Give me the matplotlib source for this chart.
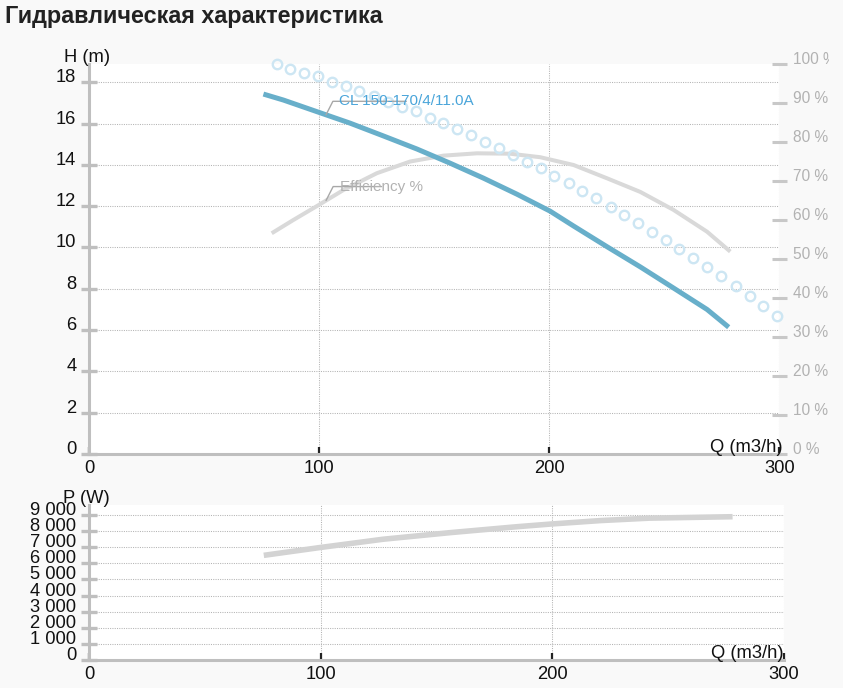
import matplotlib
matplotlib.use("Agg")
import matplotlib.pyplot as plt
from matplotlib.transforms import Bbox, TransformedBbox
import numpy as np

plt.rcParams['font.family'] = ['Liberation Sans', 'DejaVu Sans']

# ---------------- data ----------------
title = "Гидравлическая характеристика"
curve_label = "CL 150-170/4/11.0A"
eff_label = "Efficiency %"
h_axis_label = "H (m)"
p_axis_label = "P (W)"
q_axis_label = "Q (m3/h)"

q_head = [75.8, 84.5, 99.0, 113.5, 128.0, 142.5, 157.0, 171.4, 186.0, 200.4,
          210.6, 225.1, 239.6, 254.0, 268.6, 278.0]
h_head = [17.43, 17.14, 16.58, 16.02, 15.40, 14.77, 14.08, 13.36, 12.58, 11.76,
          11.04, 10.04, 9.06, 8.04, 7.00, 6.14]

q_eff = [79.4, 88.8, 99.7, 110.6, 125.1, 139.6, 154.0, 168.6, 183.0, 196.1,
         210.6, 225.1, 239.6, 254.0, 268.6, 278.7]
eff = [56.6, 60.0, 63.8, 67.7, 72.0, 75.0, 76.5, 77.1, 77.0, 76.1,
       74.1, 70.7, 67.2, 62.6, 57.0, 51.9]

q_dots = [81.6, 87.5, 93.5, 99.6, 105.5, 111.6, 117.5, 123.7, 130.1, 136.0,
          142.0, 148.0, 153.9, 159.9, 166.0, 171.9, 178.3, 184.3, 190.3, 196.4,
          202.3, 208.4, 214.3, 220.4, 227.0, 232.6, 238.8, 244.7, 250.7, 256.5,
          262.7, 268.6, 274.7, 281.0, 287.1, 292.9, 299.0]
h_dots = [18.89, 18.64, 18.46, 18.30, 18.03, 17.82, 17.58, 17.34, 17.06, 16.82,
          16.61, 16.29, 16.01, 15.75, 15.45, 15.09, 14.80, 14.46, 14.13, 13.84,
          13.46, 13.11, 12.74, 12.38, 11.98, 11.59, 11.17, 10.74, 10.36, 9.93,
          9.48, 9.04, 8.61, 8.14, 7.65, 7.17, 6.68]

q_pow = [75.5, 100, 127, 156, 185, 200, 221, 242, 278]
p_pow = [6500, 6990, 7500, 7910, 8280, 8450, 8660, 8810, 8900]

x_ticks = [0, 100, 200, 300]
h_ticks = [0, 2, 4, 6, 8, 10, 12, 14, 16, 18]
pct_ticks = [0, 10, 20, 30, 40, 50, 60, 70, 80, 90, 100]
p_ticks = [0, 1000, 2000, 3000, 4000, 5000, 6000, 7000, 8000, 9000]

# ---------------- style ----------------
W, H = 843, 688
BG = '#f9f9f9'
SPINE = '#bfbfbf'
GRID = '#b4b4b4'
BLUE = '#68afca'
BLUE_TXT = '#4aa5da'
DOT = '#cde6f3'
EFF = '#d9d9d9'
POW = '#d3d3d3'
TXT = '#111111'
GRAY_TXT = '#b2b2b2'
FS = 13.2

fig = plt.figure(figsize=(W / 100, H / 100), dpi=100, facecolor=BG)


def frac(l, t, r, b):
    return [l / W, 1 - b / H, (r - l) / W, (b - t) / H]


def style_axes(a, yticks, ylabels):
    a.set_facecolor('white')
    for s in ('top', 'right'):
        a.spines[s].set_visible(False)
    for s in ('left', 'bottom'):
        a.spines[s].set_color(SPINE)
        a.spines[s].set_linewidth(2.2)
    a.set_xticks(x_ticks)
    a.set_xticklabels([str(v) for v in x_ticks])
    a.set_yticks(yticks)
    a.set_yticklabels(ylabels)
    a.tick_params(axis='x', direction='in', length=5, width=1.6, color='#222222',
                  labelsize=FS, labelcolor=TXT, pad=4.5)
    a.tick_params(axis='y', direction='inout', length=12.2, width=2.4, color=SPINE,
                  labelsize=FS, labelcolor=TXT, pad=3)
    a.grid(True, color=GRID, linestyle=(0, (1, 1.2)), linewidth=0.75)
    a.set_axisbelow(True)
    plt.setp(a.get_yticklabels(), va='baseline')


# ---------------- top chart ----------------
ax = fig.add_axes(frac(89, 64, 779.3, 454))
ax.set_xlim(0, 300)
ax.set_ylim(0, 18.886)
style_axes(ax, h_ticks, [str(v) for v in h_ticks])

ax2 = ax.twinx()
ax2.set_ylim(0, 100)
for s in ax2.spines.values():
    s.set_visible(False)
ax2.set_yticks(pct_ticks)
ax2.set_yticklabels([f"{v} %" for v in pct_ticks])
ax2.tick_params(axis='y', direction='inout', length=10.8, width=2.2, color='#c8c8c8',
                labelsize=11.2, labelcolor=GRAY_TXT, pad=4.2)
clip = TransformedBbox(Bbox([[0, 0], [829 / W, 1]]), fig.transFigure)
for lab in ax2.get_yticklabels():
    lab.set_va('baseline')
    lab.set_clip_box(clip)
    lab.set_clip_on(True)

ax2.plot(q_eff, eff, color=EFF, lw=2.9, solid_capstyle='butt', zorder=2)
ax2.plot(q_dots, h_dots, transform=ax.transData, linestyle='none', marker='o',
         ms=6.8, mfc='none', mec=DOT, mew=1.7, clip_on=False, zorder=3)
ax2.plot(q_head, h_head, transform=ax.transData, color=BLUE, lw=3.6,
         solid_capstyle='butt', solid_joinstyle='round', zorder=4)

q_anchor = 103
ax2.annotate(curve_label, xy=(q_anchor, np.interp(q_anchor, q_head, h_head)),
             xycoords=ax.transData, xytext=(13, 13.5), textcoords='offset pixels',
             ha='left', va='center', fontsize=11, color=BLUE_TXT,
             arrowprops=dict(arrowstyle='-', color='#a8a8a8', lw=1,
                             shrinkA=0, shrinkB=0, patchA=None,
                             connectionstyle='angle,angleA=0,angleB=63,rad=0'),
             zorder=5)
ax2.annotate(eff_label, xy=(q_anchor, np.interp(q_anchor, q_eff, eff)),
             xytext=(14, 14), textcoords='offset pixels',
             ha='left', va='center', fontsize=11, color=GRAY_TXT,
             arrowprops=dict(arrowstyle='-', color='#a8a8a8', lw=1,
                             shrinkA=0, shrinkB=0, patchA=None,
                             connectionstyle='angle,angleA=0,angleB=63,rad=0'),
             zorder=5)

# ---------------- bottom chart ----------------
axp = fig.add_axes(frac(89, 505, 783.5, 660))
axp.set_xlim(0, 300)
axp.set_ylim(0, 9627)
style_axes(axp, p_ticks, [f"{v:,}".replace(',', ' ') for v in p_ticks])
axp.plot(q_pow, p_pow, color=POW, lw=4.0, solid_capstyle='butt', zorder=3)

# ---------------- texts ----------------
fig.text(5 / W, 1 - 23.3 / H, title, fontsize=16.8, fontweight='bold',
         color='#222222', ha='left', va='baseline')
fig.text(64.5 / W, 1 - 61.7 / H, h_axis_label, fontsize=FS, color=TXT,
         ha='left', va='baseline')
fig.text(63.5 / W, 1 - 503.3 / H, p_axis_label, fontsize=FS, color=TXT,
         ha='left', va='baseline')
fig.text(782.5 / W, 1 - 451.5 / H, q_axis_label, fontsize=FS, color=TXT,
         ha='right', va='baseline')
fig.text(784 / W, 1 - 657.5 / H, q_axis_label, fontsize=FS, color=TXT,
         ha='right', va='baseline')

fig.savefig('out.png', dpi=100, facecolor=BG)
